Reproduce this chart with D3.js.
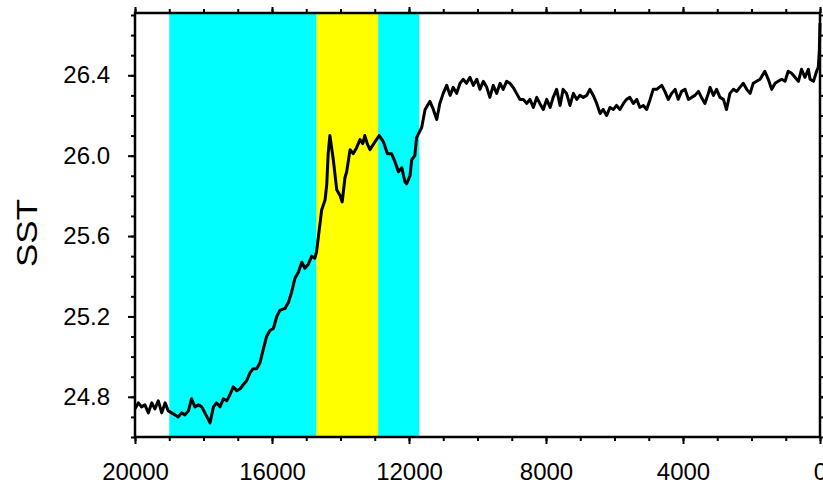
<!doctype html>
<html lang="en">
<head>
<meta charset="utf-8">
<title>SST</title>
<style>
  body { margin: 0; background: #fff; }
  svg { display: block; font-family: "Liberation Sans", Arial, Helvetica, sans-serif; }
  .axis path { display: none; }
  .axis line { stroke: #000; stroke-width: 2px; }
  .axis text { font-size: 24px; fill: #000; font-family: "Liberation Sans", Arial, Helvetica, sans-serif; }
  .frame { fill: none; stroke: #000; stroke-width: 2.5px; }
  .sst { fill: none; stroke: #000; stroke-width: 3px; stroke-linejoin: round; }
</style>
</head>
<body>
<div id="chart"></div>
<script src="https://cdn.jsdelivr.net/npm/d3@7"></script>
<script>
// years before present
var years = [20000, 19900, 19810, 19710, 19610, 19510, 19420, 19320, 19220, 19120,
  19030, 18930, 18830, 18740, 18640, 18540, 18440, 18350, 18250, 18150,
  18050, 17960, 17810, 17710, 17620, 17520, 17420, 17320, 17230, 17130,
  17030, 16930, 16840, 16740, 16640, 16550, 16450, 16350, 16250, 16160,
  16060, 15960, 15860, 15770, 15620, 15520, 15430, 15330, 15230, 15130,
  15040, 14940, 14840, 14750, 14700, 14650, 14550, 14450, 14400, 14360,
  14310, 14210, 14110, 14010, 13950, 13870, 13820, 13720, 13630, 13530,
  13430, 13350, 13290, 13220, 13140, 12990, 12870, 12750, 12630, 12510,
  12410, 12310, 12210, 12120, 12070, 11970, 11920, 11830, 11780, 11630,
  11530, 11390, 11290, 11190, 11100, 11000, 10900, 10800, 10710, 10610,
  10510, 10420, 10320, 10220, 10120, 10020, 9930, 9830, 9730, 9640,
  9540, 9440, 9340, 9250, 9150, 9050, 8960, 8860, 8760, 8660,
  8560, 8470, 8370, 8270, 8180, 8080, 7980, 7880, 7790, 7690,
  7590, 7500, 7400, 7300, 7200, 7100, 7010, 6910, 6810, 6720,
  6620, 6520, 6420, 6330, 6230, 6130, 6030, 5940, 5840, 5740,
  5650, 5550, 5450, 5350, 5260, 5160, 5060, 4960, 4870, 4770,
  4620, 4530, 4430, 4330, 4230, 4140, 4040, 3940, 3840, 3750,
  3650, 3550, 3460, 3360, 3260, 3210, 3110, 3020, 2920, 2820,
  2730, 2630, 2530, 2430, 2340, 2240, 2140, 2040, 1950, 1850,
  1750, 1610, 1510, 1410, 1310, 1220, 1120, 1020, 930, 830,
  730, 630, 540, 440, 340, 290, 190, 100, 50, 20, 0];

var sst = [24.74, 24.77, 24.75, 24.76, 24.72, 24.77, 24.74, 24.78, 24.72, 24.77,
  24.73, 24.72, 24.71, 24.70, 24.72, 24.71, 24.73, 24.79, 24.75, 24.76,
  24.75, 24.72, 24.67, 24.75, 24.77, 24.75, 24.79, 24.78, 24.81, 24.85,
  24.83, 24.84, 24.86, 24.88, 24.92, 24.94, 24.94, 24.97, 25.04, 25.10,
  25.13, 25.14, 25.20, 25.23, 25.24, 25.27, 25.32, 25.39, 25.42, 25.47,
  25.44, 25.46, 25.50, 25.49, 25.52, 25.59, 25.73, 25.78, 25.86, 26.01,
  26.10, 25.98, 25.83, 25.80, 25.77, 25.89, 25.92, 26.03, 26.01, 26.04,
  26.08, 26.06, 26.10, 26.06, 26.03, 26.07, 26.10, 26.07, 26.01, 26.01,
  25.97, 25.92, 25.94, 25.87, 25.86, 25.90, 25.98, 26.00, 26.09, 26.14,
  26.23, 26.27, 26.23, 26.18, 26.26, 26.31, 26.35, 26.30, 26.34, 26.31,
  26.36, 26.38, 26.36, 26.39, 26.35, 26.38, 26.33, 26.37, 26.34, 26.29,
  26.35, 26.31, 26.36, 26.33, 26.37, 26.36, 26.34, 26.31, 26.28, 26.28,
  26.26, 26.28, 26.24, 26.29, 26.26, 26.23, 26.28, 26.24, 26.29, 26.33,
  26.25, 26.33, 26.31, 26.25, 26.31, 26.28, 26.30, 26.29, 26.30, 26.33,
  26.30, 26.26, 26.21, 26.23, 26.20, 26.24, 26.23, 26.25, 26.23, 26.26,
  26.28, 26.29, 26.26, 26.28, 26.24, 26.25, 26.23, 26.28, 26.33, 26.33,
  26.35, 26.32, 26.28, 26.31, 26.33, 26.28, 26.32, 26.33, 26.28, 26.29,
  26.30, 26.32, 26.29, 26.26, 26.31, 26.34, 26.30, 26.33, 26.29, 26.28,
  26.23, 26.31, 26.33, 26.32, 26.34, 26.36, 26.33, 26.31, 26.36, 26.37,
  26.38, 26.42, 26.38, 26.33, 26.36, 26.37, 26.38, 26.37, 26.42, 26.41,
  26.39, 26.37, 26.43, 26.39, 26.43, 26.38, 26.37, 26.42, 26.44, 26.52, 26.66];

// shaded periods
var spanStart = [19000, 14700, 12900];
var spanEnd = [14700, 12900, 11700];
var spanColor = ["#00ffff", "#ffff00", "#00ffff"];

var xTicks = [20000, 16000, 12000, 8000, 4000, 0];
var yTicks = [24.8, 25.2, 25.6, 26.0, 26.4];

(function() {
  var width = 823, height = 488;
  var left = 135, right = 820, top = 13, bottom = 437;

  var x = d3.scaleLinear().domain([20000, 0]).range([left, right]);
  var y = d3.scaleLinear().domain([24.6, 26.71]).range([bottom, top]);

  var svg = d3.select("#chart").append("svg")
      .attr("width", width)
      .attr("height", height);

  svg.selectAll("rect.span")
    .data(spanStart)
    .enter().append("rect")
      .attr("class", "span")
      .attr("x", function(d) { return x(d); })
      .attr("width", function(d, i) { return x(spanEnd[i]) - x(d); })
      .attr("y", top)
      .attr("height", bottom - top)
      .attr("fill", function(d, i) { return spanColor[i]; });

  var line = d3.line()
      .x(function(d) { return x(d); })
      .y(function(d, i) { return y(sst[i]); });

  svg.append("path")
      .datum(years)
      .attr("class", "sst")
      .attr("d", line);

  // minor ticks
  var xMinor = d3.range(0, 20001, 1000);
  var yMinor = d3.range(246, 268).map(function(d) { return d / 10; });
  var none = function() { return ""; };

  svg.append("g").attr("class", "axis")
      .attr("transform", "translate(0," + bottom + ")")
      .call(d3.axisBottom(x).tickValues(xMinor).tickSize(4).tickFormat(none));
  svg.append("g").attr("class", "axis")
      .attr("transform", "translate(0," + top + ")")
      .call(d3.axisTop(x).tickValues(xMinor).tickSize(4).tickFormat(none));
  svg.append("g").attr("class", "axis")
      .attr("transform", "translate(" + left + ",0)")
      .call(d3.axisLeft(y).tickValues(yMinor).tickSize(4).tickFormat(none));
  svg.append("g").attr("class", "axis")
      .attr("transform", "translate(" + right + ",0)")
      .call(d3.axisRight(y).tickValues(yMinor).tickSize(4).tickFormat(none));

  // major ticks
  svg.append("g").attr("class", "axis")
      .attr("transform", "translate(0," + bottom + ")")
      .call(d3.axisBottom(x).tickValues(xTicks).tickSize(7).tickPadding(19).tickFormat(d3.format("d")));
  svg.append("g").attr("class", "axis")
      .attr("transform", "translate(0," + top + ")")
      .call(d3.axisTop(x).tickValues(xTicks).tickSize(6).tickFormat(none));
  svg.append("g").attr("class", "axis")
      .attr("transform", "translate(" + left + ",0)")
      .call(d3.axisLeft(y).tickValues(yTicks).tickSize(7).tickPadding(18).tickFormat(d3.format(".1f")));
  svg.append("g").attr("class", "axis")
      .attr("transform", "translate(" + right + ",0)")
      .call(d3.axisRight(y).tickValues(yTicks).tickSize(7).tickFormat(none));

  svg.append("rect")
      .attr("class", "frame")
      .attr("x", left)
      .attr("y", top)
      .attr("width", right - left)
      .attr("height", bottom - top);

  svg.append("text")
      .attr("transform", "translate(37,233) rotate(-90)")
      .attr("text-anchor", "middle")
      .attr("textLength", 68)
      .attr("lengthAdjust", "spacingAndGlyphs")
      .style("font-size", "29px")
      .text("SST");
})();
</script>
</body>
</html>
